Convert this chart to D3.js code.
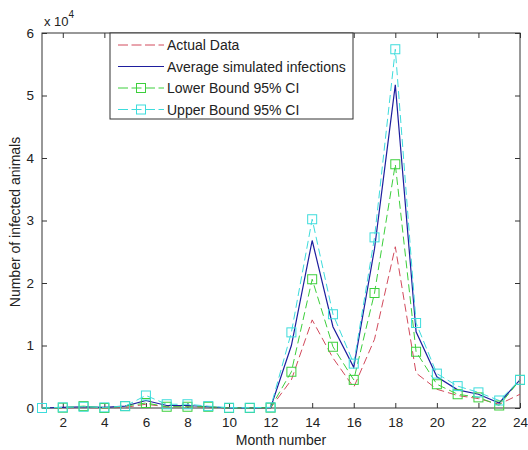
<!DOCTYPE html>
<html>
<head>
<meta charset="utf-8">
<script src="https://cdn.jsdelivr.net/npm/d3@7"></script>
<style>
html,body{margin:0;padding:0;background:#fff;}
svg{display:block;}
text{font-family:Arial,"Liberation Sans",sans-serif;fill:#222;}
</style>
</head>
<body>
<svg id="chart" width="528" height="450"></svg>
<script>
const months = d3.range(1, 25);
const actualData = [0,0,100,0,100,600,200,200,100,0,0,0, 4500,14100,8000,3300,11000,25800,5600,3000,2000,1500,600,2200];
const averageSim = [0,100,200,100,300,1200,400,400,200,0,0,50, 10000,26800,13000,6500,25500,51700,12200,5000,2900,2200,800,4500];
const lowerCI =    [0,50,300,0,300,800,200,200,200,0,0,50, 5800,20600,9800,4500,18400,39000,9000,3800,2200,1700,400,4500];
const upperCI =    [0,100,200,100,300,2000,600,600,300,50,50,100, 12100,30200,15000,7100,27300,57400,13600,5500,3500,2500,1200,4500];
const xTicks = [2,4,6,8,10,12,14,16,18,20,22,24];
const yTicks = [0,10000,20000,30000,40000,50000,60000];
const legendLabels = ["Actual Data","Average simulated infections","Lower Bound 95% CI","Upper Bound 95% CI"];

const series = [
  {name: legendLabels[0], values: actualData, color: "#d24a5c", dash: "8,4", marker: false, width: 1},
  {name: legendLabels[1], values: averageSim, color: "#1e1e9e", dash: null, marker: false, width: 1.2},
  {name: legendLabels[2], values: lowerCI, color: "#3ccf3c", dash: "8,4", marker: true, width: 1},
  {name: legendLabels[3], values: upperCI, color: "#3ddcdc", dash: "8,4", marker: true, width: 1}
];

const L = 42, R = 520, T = 33, B = 408;
const svg = d3.select("#chart");
const x = d3.scaleLinear().domain([1, 24]).range([L, R]);
const y = d3.scaleLinear().domain([0, 60000]).range([B, T]);

const axColor = "#333";
svg.append("rect").attr("x", L).attr("y", T).attr("width", R - L).attr("height", B - T)
  .attr("fill", "none").attr("stroke", axColor).attr("stroke-width", 1);

const tickLen = 5;
const gx = svg.append("g").attr("transform", `translate(0,${B})`)
  .call(d3.axisBottom(x).tickValues(xTicks).tickSize(-tickLen).tickPadding(9).tickFormat(d3.format("d")));
gx.select(".domain").remove();
gx.selectAll("line").attr("stroke", axColor);
gx.selectAll("text").attr("font-size", 13.5).style("fill", "#222");
const gxt = svg.append("g").attr("transform", `translate(0,${T})`)
  .call(d3.axisTop(x).tickValues(xTicks).tickSize(-tickLen).tickFormat(""));
gxt.select(".domain").remove();
gxt.selectAll("line").attr("stroke", axColor);
const gy = svg.append("g").attr("transform", `translate(${L},0)`)
  .call(d3.axisLeft(y).tickValues(yTicks).tickSize(-tickLen).tickPadding(8).tickFormat(d => d / 10000));
gy.select(".domain").remove();
gy.selectAll("line").attr("stroke", axColor);
gy.selectAll("text").attr("font-size", 13.5).style("fill", "#222");
const gyr = svg.append("g").attr("transform", `translate(${R},0)`)
  .call(d3.axisRight(y).tickValues(yTicks).tickSize(-tickLen).tickFormat(""));
gyr.select(".domain").remove();
gyr.selectAll("line").attr("stroke", axColor);

const ex = svg.append("text").attr("x", 44).attr("y", 26).attr("font-size", 13);
ex.append("tspan").text("x 10");
ex.append("tspan").attr("dy", -8).attr("font-size", 10).text("4");

svg.append("text").attr("x", (L + R) / 2).attr("y", 445).attr("text-anchor", "middle")
  .attr("font-size", 14).text("Month number");
svg.append("text").attr("transform", "translate(20,222) rotate(-90)").attr("text-anchor", "middle")
  .attr("font-size", 14).text("Number of infected animals");

const plot = svg.append("g");
const line = d3.line().x((d, i) => x(months[i])).y(d => y(d));
series.forEach(s => {
  plot.append("path").datum(s.values).attr("d", line)
    .attr("fill", "none").attr("stroke", s.color).attr("stroke-width", s.width)
    .attr("stroke-dasharray", s.dash);
});
series.filter(s => s.marker).forEach(s => {
  plot.selectAll(null).data(s.values).enter().append("rect")
    .attr("x", (d, i) => x(months[i]) - 4.5).attr("y", d => y(d) - 4.5)
    .attr("width", 9).attr("height", 9)
    .attr("fill", "none").attr("stroke", s.color).attr("stroke-width", 1);
});

const lg = svg.append("g");
lg.append("rect").attr("x", 110).attr("y", T).attr("width", 243).attr("height", 86)
  .attr("fill", "#fff").attr("stroke", axColor).attr("stroke-width", 1);
series.forEach((s, i) => {
  const yy = 45 + i * 21.5;
  lg.append("line").attr("x1", 118).attr("x2", 164).attr("y1", yy).attr("y2", yy)
    .attr("stroke", s.color).attr("stroke-width", s.width)
    .attr("stroke-dasharray", s.dash ? "10,3.5" : null);
  if (s.marker) {
    lg.append("rect").attr("x", 136.5).attr("y", yy - 4.5).attr("width", 9).attr("height", 9)
      .attr("fill", "none").attr("stroke", s.color);
  }
  lg.append("text").attr("x", 167).attr("y", yy + 5).attr("font-size", 14).text(s.name);
});
</script>
</body>
</html>
